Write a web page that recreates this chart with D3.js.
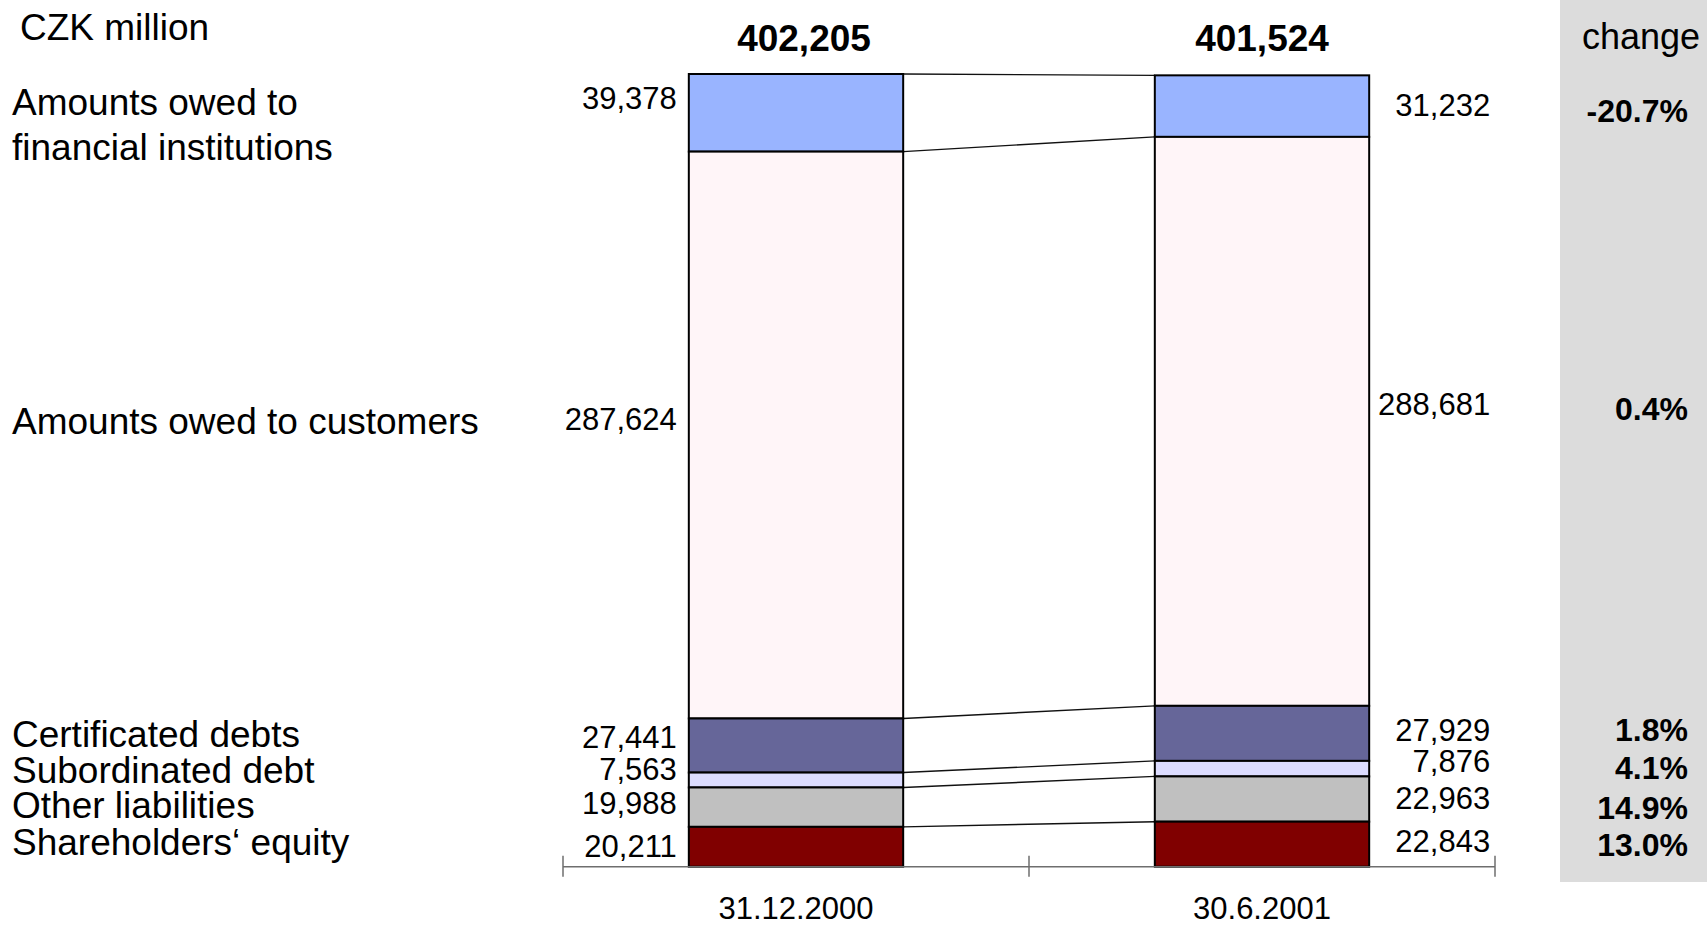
<!DOCTYPE html>
<html>
<head>
<meta charset="utf-8">
<script src="https://cdn.jsdelivr.net/npm/d3@7"></script>
<style>
  html, body { margin: 0; padding: 0; background: #fff; }
  svg { display: block; font-family: "Liberation Sans", Arial, sans-serif; }
</style>
</head>
<body>
<svg id="chart" width="1707" height="926"></svg>
<script>
// Liabilities structure, CZK million
const periods = ["31.12.2000", "30.6.2001"];
const categories = [
  "Amounts owed to financial institutions",
  "Amounts owed to customers",
  "Certificated debts",
  "Subordinated debt",
  "Other liabilities",
  "Shareholders\u2018 equity"
];
const categoryLines = [
  ["Amounts owed to", "financial institutions"],
  ["Amounts owed to customers"],
  ["Certificated debts"],
  ["Subordinated debt"],
  ["Other liabilities"],
  ["Shareholders\u2018 equity"]
];
const values2000 = [39378, 287624, 27441, 7563, 19988, 20211];
const values2001 = [31232, 288681, 27929, 7876, 22963, 22843];
const colors = ["#99b4ff", "#fff5f8", "#666699", "#dcdcff", "#c0c0c0", "#800000"];

// small vertical nudges (px) that keep neighbouring labels apart
const nudgeLeftValue = [-15, -16, -9, -11, -4, -1];
const nudgeRightValue = [-1, -17, -3, -8, -1, -3];
const nudgePct = [4, -13, -4, -1, 8, 0];
const nudgeCategory = [12, -14, -12, -10, -2, -5];
const nudgeTotalX = [8, 0];

const svg = d3.select("#chart");
const W = 1707, H = 926;

const x = d3.scaleBand().domain(periods).range([563, 1495]).padding(0);
const barFrac = 0.46;
const barW = x.bandwidth() * barFrac;
const barX = p => x(p) + (x.bandwidth() - barW) / 2;
const totals = [d3.sum(values2000), d3.sum(values2001)];
const y = d3.scaleLinear().domain([0, d3.max(totals)]).range([866.7, 74]);

// stack each period bottom-up: last category sits on the axis
function stackOf(vals) {
  const out = new Array(vals.length);
  let acc = 0;
  for (let i = vals.length - 1; i >= 0; i--) {
    out[i] = { i, y0: acc, y1: acc + vals[i], v: vals[i] };
    acc += vals[i];
  }
  return out;
}
const stacks = [stackOf(values2000), stackOf(values2001)];

// grey "change" panel
svg.append("rect")
  .attr("x", 1560).attr("y", 0)
  .attr("width", W - 1560).attr("height", 882)
  .attr("fill", "#dcdcdc");

// connector lines between segment tops
const connectors = svg.append("g");
categories.forEach((c, i) => {
  connectors.append("line")
    .attr("x1", barX(periods[0]) + barW)
    .attr("x2", barX(periods[1]))
    .attr("y1", y(stacks[0][i].y1))
    .attr("y2", y(stacks[1][i].y1))
    .attr("stroke", "#111")
    .attr("stroke-width", 1.4);
});

// bars
periods.forEach((p, k) => {
  svg.append("g")
    .selectAll("rect")
    .data(stacks[k])
    .join("rect")
    .attr("x", barX(p))
    .attr("width", barW)
    .attr("y", d => y(d.y1))
    .attr("height", d => y(d.y0) - y(d.y1))
    .attr("fill", d => colors[d.i])
    .attr("stroke", "#000")
    .attr("stroke-width", 2);
});

// axis with ticks on category boundaries
const axisY = y(0);
const axisG = svg.append("g");
axisG.append("line")
  .attr("x1", x.range()[0]).attr("x2", x.range()[1])
  .attr("y1", axisY).attr("y2", axisY)
  .attr("stroke", "#6e6e6e").attr("stroke-width", 1.5);
const tickXs = periods.map(p => x(p)).concat([x.range()[1]]);
axisG.selectAll("line.tick")
  .data(tickXs)
  .join("line")
  .attr("class", "tick")
  .attr("x1", d => d).attr("x2", d => d)
  .attr("y1", axisY - 11).attr("y2", axisY + 10)
  .attr("stroke", "#6e6e6e").attr("stroke-width", 1.5);

// period labels
svg.append("g")
  .selectAll("text")
  .data(periods)
  .join("text")
  .attr("x", p => x(p) + x.bandwidth() / 2)
  .attr("y", 919)
  .attr("text-anchor", "middle")
  .attr("font-size", 31)
  .attr("fill", "#000")
  .text(p => p);

// totals on top
const fmt = d3.format(",");
svg.append("g")
  .selectAll("text")
  .data(periods)
  .join("text")
  .attr("x", (p, k) => x(p) + x.bandwidth() / 2 + nudgeTotalX[k])
  .attr("y", 51)
  .attr("text-anchor", "middle")
  .attr("font-size", 37)
  .attr("font-weight", "bold")
  .text((p, k) => fmt(totals[k]));

// segment value labels
const mid = d => (y(d.y0) + y(d.y1)) / 2;
svg.append("g")
  .selectAll("text")
  .data(stacks[0])
  .join("text")
  .attr("x", barX(periods[0]) - 12)
  .attr("y", d => mid(d) + nudgeLeftValue[d.i] + 11)
  .attr("text-anchor", "end")
  .attr("font-size", 31)
  .text(d => fmt(d.v));
svg.append("g")
  .selectAll("text")
  .data(stacks[1])
  .join("text")
  .attr("x", barX(periods[1]) + barW + 121)
  .attr("y", d => mid(d) + nudgeRightValue[d.i] + 11)
  .attr("text-anchor", "end")
  .attr("font-size", 31)
  .text(d => fmt(d.v));

// category labels on the left
const catG = svg.append("g");
stacks[0].forEach(d => {
  const lines = categoryLines[d.i];
  const lh = 44.7;
  const c = mid(d) + nudgeCategory[d.i];
  const t = catG.append("text")
    .attr("x", 12)
    .attr("font-size", 37);
  lines.forEach((ln, j) => {
    t.append("tspan")
      .attr("x", 12)
      .attr("y", c - (lines.length - 1) * lh / 2 + j * lh + 13)
      .text(ln);
  });
});

// unit caption
svg.append("text")
  .attr("x", 20).attr("y", 40)
  .attr("font-size", 37)
  .text("CZK million");

// change column
svg.append("text")
  .attr("x", 1582).attr("y", 49)
  .attr("font-size", 36)
  .text("change");

const pct = d3.formatLocale({
  decimal: ".", thousands: ",", grouping: [3], currency: ["", ""], minus: "-"
}).format(".1%");
svg.append("g")
  .selectAll("text")
  .data(stacks[1])
  .join("text")
  .attr("x", 1688)
  .attr("y", d => mid(d) + nudgePct[d.i] + 11.5)
  .attr("text-anchor", "end")
  .attr("font-size", 32)
  .attr("font-weight", "bold")
  .text(d => pct(values2001[d.i] / values2000[d.i] - 1));
</script>
</body>
</html>
